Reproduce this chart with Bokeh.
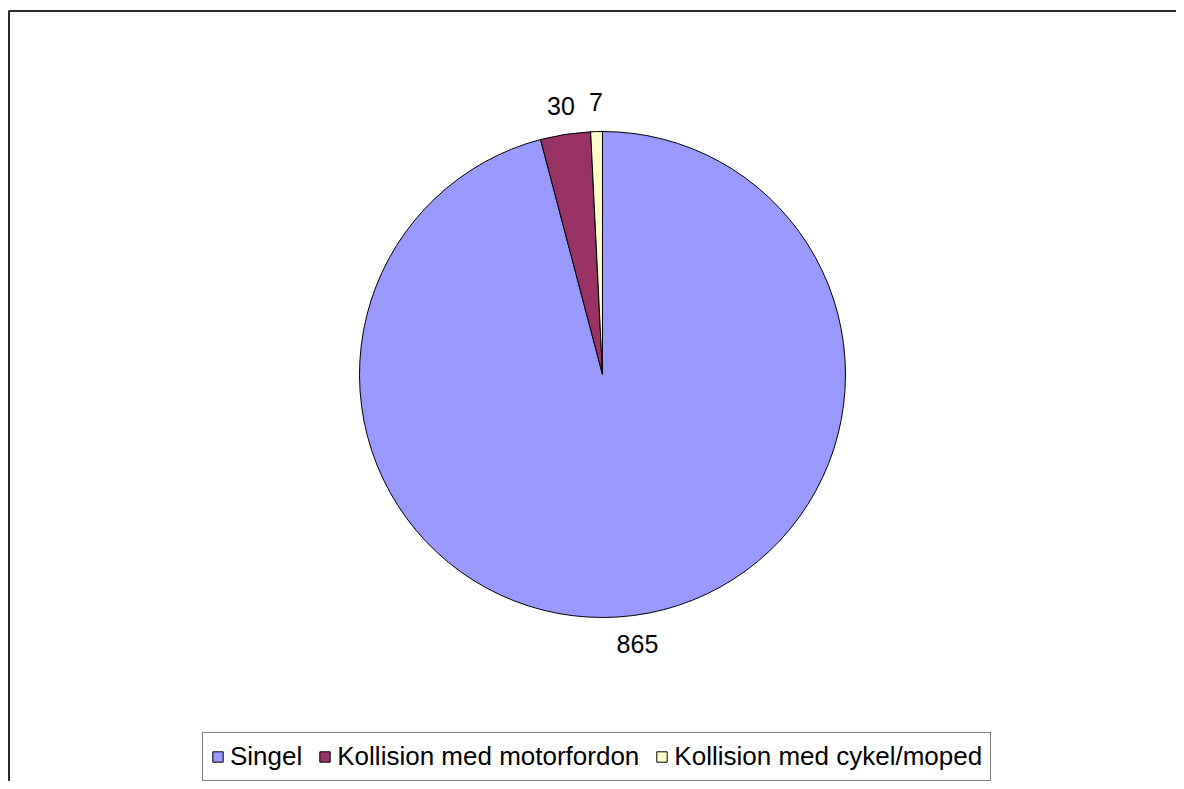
import math
from bokeh.plotting import figure
from bokeh.models import Legend, LegendItem, Range1d
from bokeh.core.properties import value
from bokeh.embed import file_html
from bokeh.resources import INLINE

categories = ["Singel", "Kollision med motorfordon", "Kollision med cykel/moped"]
values = [865, 30, 7]
colors = ["#9999FF", "#993366", "#FFFFCC"]

W, H = 1176, 781
R_PX = 243.0           # pie radius in pixels
CX, CY = 602.0, 407.0  # pie centre in canvas pixels (from left, from bottom)

x0 = -CX / R_PX
x1 = (W - CX) / R_PX
y0 = -CY / R_PX
y1 = (H - CY) / R_PX

total = float(sum(values))
starts, ends, lx, ly, labels = [], [], [], [], []
cum = 0.0
for v in values:
    a0 = math.pi / 2 - 2 * math.pi * cum / total
    cum += v
    a1 = math.pi / 2 - 2 * math.pi * cum / total
    starts.append(a0)
    ends.append(a1)
    mid = (a0 + a1) / 2
    lx.append(1.12 * math.cos(mid))
    ly.append(1.12 * math.sin(mid))
    labels.append(str(v))

p = figure(width=W, height=H, output_backend="svg", toolbar_location=None,
           x_axis_type=None, y_axis_type=None, min_border=0,
           x_range=Range1d(x0, x1), y_range=Range1d(y0, y1))
p.grid.visible = False
p.outline_line_color = None
p.background_fill_color = "white"
p.border_fill_color = "white"

# chart-area frame: only the left and top edges fall inside the picture
fl = x0 + 8.5 / R_PX
ft = y1 - 10.5 / R_PX
p.line(x=[fl, fl, x1 + 1.0], y=[y0 - 1.0, ft, ft],
       line_color="#2a2a2a", line_width=2)

items = []
for i in range(len(values)):
    r = p.wedge(x=0, y=0, radius=1, start_angle=starts[i], end_angle=ends[i],
                direction="clock", fill_color=colors[i], line_color="black",
                line_width=1)
    items.append(LegendItem(label=categories[i], renderers=[r]))

p.text(x=lx, y=ly, text=labels, text_align="center", text_baseline="middle",
       text_font=value("Liberation Sans"), text_font_size="25px",
       text_color="black")

legend = Legend(items=items, orientation="horizontal", location=(202, 0),
                label_text_font="Liberation Sans", label_text_font_size="26px",
                label_text_color="black", glyph_width=13, glyph_height=13,
                label_standoff=6, spacing=16, padding=8, margin=0,
                border_line_color="black", border_line_width=1,
                background_fill_alpha=1.0)
p.add_layout(legend)

open("out.html", "w").write(file_html(p, INLINE))
